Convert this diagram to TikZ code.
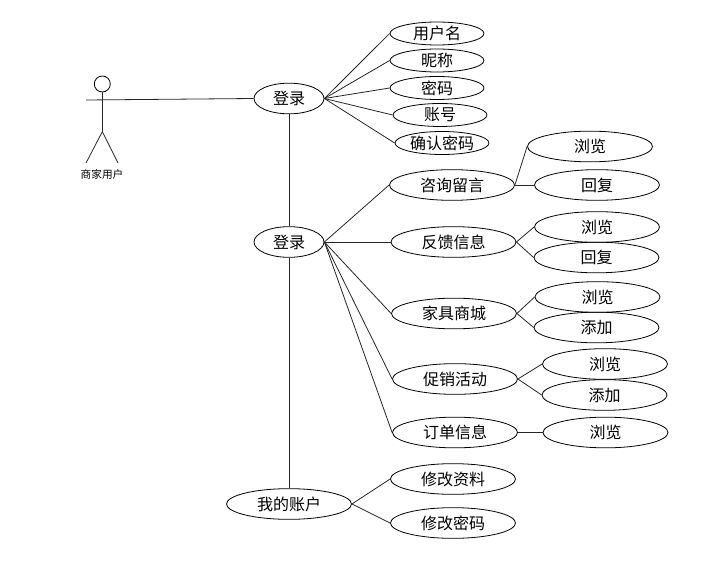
\documentclass[tikz,border=0pt]{standalone}
\usepackage{fontspec}
\setmainfont{Noto Sans CJK SC}
\usetikzlibrary{shapes.geometric}
\tikzset{
  usecase/.style={draw,ellipse,inner sep=0pt,line width=0.6pt,font=\fontsize{12pt}{14pt}\selectfont},
  smallcase/.style={usecase,minimum width=70.5pt,minimum height=17.25pt},
  rootcase/.style={usecase,minimum width=52.5pt,minimum height=23pt},
  widecase/.style={usecase,minimum width=93.75pt,minimum height=23pt},
  assoc/.style={line width=0.6pt,color=black!85},
  actorname/.style={inner sep=0pt,font=\fontsize{8pt}{10pt}\selectfont}
}

\begin{document}
\begin{tikzpicture}[x=0.75pt,y=0.75pt,yscale=-1,xscale=1]
\useasboundingbox (0,0) rectangle (710,563);

%Shape: Actor
\node (head) [draw,circle,line width=0.6pt,minimum size=12pt,inner sep=0pt] at (102.3,84) {};
\coordinate (armleft) at (86,100);
\coordinate (hip) at (102.3,131.7);
\coordinate (footleft) at (86,163);
\coordinate (footright) at (118,163);
\node (actorlabel) [actorname] at (102,174.5) {商家用户};

% Text Node
\node (login) [rootcase] at (289,98.5) {登录};
\node (manage) [rootcase] at (289,242) {登录};
\node (account) [widecase] at (289,504) {我的账户};

% Text Node
\node (username) [smallcase] at (437,33.5) {用户名};
\node (nickname) [smallcase] at (437,60.5) {昵称};
\node (password) [smallcase] at (437,88) {密码};
\node (accountno) [smallcase] at (440,115) {账号};
\node (confirm) [smallcase] at (442,143) {确认密码};

% Text Node
\node (consult) [widecase] at (452,185) {咨询留言};
\node (feedback) [widecase] at (453.5,242) {反馈信息};
\node (mall) [widecase] at (454,313.5) {家具商城};
\node (promo) [widecase] at (455,379) {促销活动};
\node (orders) [widecase] at (455,432.5) {订单信息};
\node (editinfo) [widecase] at (453,479) {修改资料};
\node (editpass) [widecase] at (453,523) {修改密码};

% Text Node
\node (consultview) [widecase] at (590,146.5) {浏览};
\node (consultreply) [widecase] at (597,185) {回复};
\node (feedbackview) [widecase] at (597,227) {浏览};
\node (feedbackreply) [widecase] at (596.5,257.5) {回复};
\node (mallview) [widecase] at (597.5,297) {浏览};
\node (malladd) [widecase] at (596.5,327.5) {添加};
\node (promoview) [widecase] at (605,364) {浏览};
\node (promoadd) [widecase] at (604.5,395) {添加};
\node (ordersview) [widecase] at (605.5,432.5) {浏览};

%Straight Lines
\draw [assoc] (head) -- (hip);
\draw [assoc] (hip) -- (footleft);
\draw [assoc] (hip) -- (footright);
\draw [assoc] (armleft) -- (login.west);
\draw [assoc] (login) -- (manage);
\draw [assoc] (manage) -- (account);

%Straight Lines
\draw [assoc] (login.east) -- (username.west);
\draw [assoc] (login.east) -- (nickname.west);
\draw [assoc] (login.east) -- (password.west);
\draw [assoc] (login.east) -- (accountno.west);
\draw [assoc] (login.east) -- (confirm.west);

%Straight Lines
\draw [assoc] (manage.east) -- (consult.west);
\draw [assoc] (manage.east) -- (feedback.west);
\draw [assoc] (manage.east) -- (mall.west);
\draw [assoc] (manage.east) -- (promo.west);
\draw [assoc] (manage.east) -- (orders.west);

%Straight Lines
\draw [assoc] (consult.east) -- (consultview.west);
\draw [assoc] (consult.east) -- (consultreply.west);
\draw [assoc] (feedback.east) -- (feedbackview.west);
\draw [assoc] (feedback.east) -- (feedbackreply.west);
\draw [assoc] (mall.east) -- (mallview.west);
\draw [assoc] (mall.east) -- (malladd.west);
\draw [assoc] (promo.east) -- (promoview.west);
\draw [assoc] (promo.east) -- (promoadd.west);
\draw [assoc] (orders.east) -- (ordersview.west);

%Straight Lines
\draw [assoc] (account.east) -- (editinfo.west);
\draw [assoc] (account.east) -- (editpass.west);

\end{tikzpicture}
\end{document}
